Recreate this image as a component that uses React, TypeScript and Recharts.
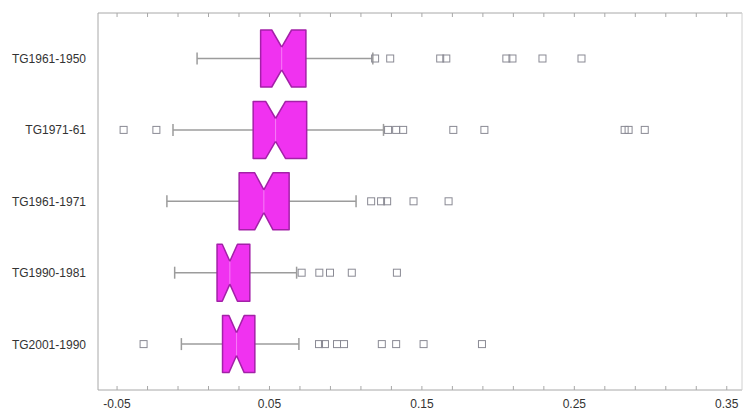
import React from "react";
import { ComposedChart, Bar, XAxis, YAxis } from "recharts";

// Notched box plots, one row per period
const categories = ["TG1961-1950", "TG1971-61", "TG1961-1971", "TG1990-1981", "TG2001-1990"];
const whiskerLow = [0.0025, -0.0133, -0.0173, -0.0122, -0.0078];
const quartile1 = [0.0442, 0.0393, 0.0301, 0.0156, 0.0192];
const medians = [0.058, 0.054, 0.0463, 0.024, 0.0284];
const quartile3 = [0.0739, 0.0744, 0.0629, 0.0371, 0.0404];
const whiskerHigh = [0.1178, 0.1248, 0.1068, 0.0678, 0.0693];
const notchHalf = [0.0065, 0.0065, 0.006, 0.005, 0.005];
const outliers = [
  [0.1193, 0.1292, 0.162, 0.166, 0.2054, 0.2094, 0.2291, 0.2547],
  [-0.0457, -0.0242, 0.1278, 0.1331, 0.1377, 0.1706, 0.191, 0.283, 0.2856, 0.2962],
  [0.1167, 0.1232, 0.1272, 0.1445, 0.1675],
  [0.0711, 0.0827, 0.0897, 0.104, 0.1336],
  [-0.0326, 0.0825, 0.0864, 0.0943, 0.0989, 0.1237, 0.1331, 0.1511, 0.1894],
];

const labelTicks = [-0.05, 0.05, 0.15, 0.25, 0.35];
const minorTicks = [
  -0.05, -0.03, -0.01, 0.01, 0.03, 0.05, 0.07, 0.09, 0.11, 0.13, 0.15, 0.17, 0.19, 0.21,
  0.23, 0.25, 0.27, 0.29, 0.31, 0.33, 0.35,
];
const xDomain = [-0.0625, 0.36];

const rows = categories.map((name, i) => ({
  name,
  range: [whiskerLow[i], whiskerHigh[i]],
  q1: quartile1[i],
  median: medians[i],
  q3: quartile3[i],
  notch: notchHalf[i],
  outliers: outliers[i],
}));

const FILL = "#f032f0";
const EDGE = "#a321a8";
const WHISKER = "#9c9c9c";
const AXIS = "#a8a8a8";

function BoxShape(props: any) {
  const { x, y, width, height, payload } = props;
  if (!payload || !width) return null;
  const [lo, hi] = payload.range;
  const k = width / (hi - lo);
  const px = (v: number) => x + (v - lo) * k;
  const cy = y + height / 2;
  const top = y;
  const bottom = y + height;
  const left = px(payload.q1);
  const right = px(payload.q3);
  const mid = px(payload.median);
  const nl = px(payload.median - payload.notch);
  const nr = px(payload.median + payload.notch);
  const depth = height * 0.3;
  const cap = 6;

  const box = [
    [left, top],
    [nl, top],
    [mid, top + depth],
    [nr, top],
    [right, top],
    [right, bottom],
    [nr, bottom],
    [mid, bottom - depth],
    [nl, bottom],
    [left, bottom],
  ]
    .map((p) => p.join(","))
    .join(" ");

  return (
    <g>
      <line x1={px(lo)} x2={left} y1={cy} y2={cy} stroke={WHISKER} strokeWidth={1.5} />
      <line x1={right} x2={px(hi)} y1={cy} y2={cy} stroke={WHISKER} strokeWidth={1.5} />
      <line x1={px(lo)} x2={px(lo)} y1={cy - cap} y2={cy + cap} stroke={WHISKER} strokeWidth={1.5} />
      <line x1={px(hi)} x2={px(hi)} y1={cy - cap} y2={cy + cap} stroke={WHISKER} strokeWidth={1.5} />
      <polygon points={box} fill={FILL} stroke={EDGE} strokeWidth={1.5} strokeLinejoin="round" />
      <line x1={mid} x2={mid} y1={top + depth} y2={bottom - depth} stroke="#f77cf7" strokeWidth={1} />
      {payload.outliers.map((v: number, j: number) => (
        <rect
          key={j}
          x={px(v) - 3.5}
          y={cy - 3.5}
          width={7}
          height={7}
          fill="none"
          stroke="#8a8a94"
          strokeWidth={1}
        />
      ))}
    </g>
  );
}

const blank = () => "";

export default function App() {
  return (
    <div style={{ position: "absolute", left: 0, top: 0, width: 743, height: 413, background: "#fff" }}>
      <ComposedChart
        width={743}
        height={413}
        data={rows}
        layout="vertical"
        margin={{ top: 13, right: 1, bottom: 0, left: 0 }}
        style={{ fontFamily: "'Liberation Sans', Arial, sans-serif" }}
      >
        <XAxis
          xAxisId={0}
          type="number"
          domain={xDomain}
          allowDataOverflow
          ticks={labelTicks}
          interval={0}
          tickFormatter={(v: number) => v.toFixed(2)}
          tickLine={false}
          tickSize={0}
          tickMargin={9}
          height={23}
          axisLine={{ stroke: AXIS }}
          tick={{ fontSize: 12, fill: "#333" }}
        />
        <XAxis
          xAxisId="minor"
          type="number"
          domain={xDomain}
          allowDataOverflow
          ticks={minorTicks}
          interval={0}
          mirror
          tickFormatter={blank}
          tickSize={4}
          tickLine={{ stroke: AXIS }}
          axisLine={false}
        />
        <XAxis
          xAxisId="top"
          orientation="top"
          type="number"
          domain={xDomain}
          allowDataOverflow
          ticks={minorTicks}
          interval={0}
          mirror
          tickFormatter={blank}
          tickSize={4}
          tickLine={{ stroke: AXIS }}
          axisLine={{ stroke: AXIS }}
        />
        <YAxis
          type="category"
          dataKey="name"
          width={98}
          padding={{ top: 10, bottom: 10 }}
          tickLine={false}
          tickSize={0}
          tickMargin={12}
          axisLine={{ stroke: AXIS }}
          tick={{ fontSize: 12, fill: "#333" }}
        />
        <YAxis
          yAxisId="right"
          orientation="right"
          type="category"
          dataKey="name"
          mirror
          tickFormatter={blank}
          tickLine={false}
          axisLine={{ stroke: "#d0d0d0" }}
        />
        <Bar dataKey="range" barSize={57} shape={<BoxShape />} isAnimationActive={false} />
      </ComposedChart>
    </div>
  );
}
